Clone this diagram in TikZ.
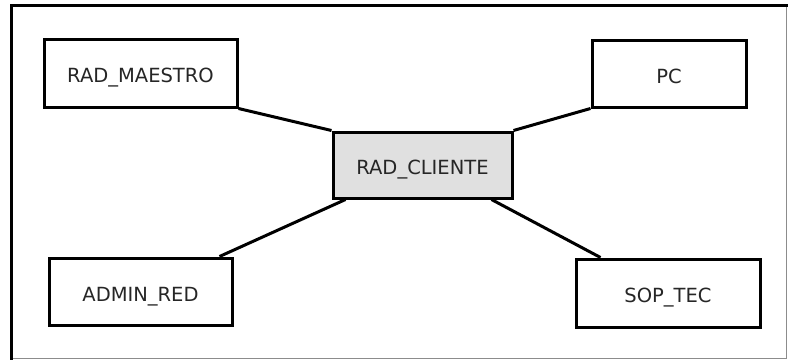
\documentclass[tikz,border=0pt]{standalone}
\usepackage{fontspec}
\setmainfont{DejaVu Sans}
\usetikzlibrary{calc}
\begin{document}
\begin{tikzpicture}[x=1pt,y=-1pt,
  entity/.style={draw=black,line width=3pt,fill=white,inner sep=0pt,
    text height=14pt,text depth=0pt,
    font=\fontsize{19.5}{22}\selectfont,text=black!85},
  link/.style={draw=black,line width=3pt}]
\useasboundingbox (0,0) rectangle (789,360);
\fill[white] (0,0) rectangle (789,360);
% frame
\draw[line width=1pt,black!45] (786,5) -- (786,358) -- (11,358);
\draw[line width=3pt,line cap=rect] (11,358) -- (11,5) -- (786,5);
% boxes
\node[entity,minimum width=193pt,minimum height=68pt] (maestro) at (140.5,73) {\raisebox{-2.5pt}{RAD\_MAESTRO}};
\node[entity,minimum width=154pt,minimum height=67pt] (pc) at (669,73.5) {\raisebox{-2.5pt}{PC}};
\node[entity,minimum width=183pt,minimum height=67pt] (admin) at (140.5,291.5) {\raisebox{-2.5pt}{ADMIN\_RED}};
\node[entity,minimum width=184pt,minimum height=68pt] (sop) at (668,293) {\raisebox{-2.5pt}{SOP\_TEC}};
\node[entity,fill=black!12,minimum width=179pt,minimum height=66pt] (cliente) at (422.5,165) {\raisebox{-2.5pt}{RAD\_CLIENTE}};
% connectors
\draw[link] (maestro.south east) -- (cliente.north west);
\draw[link] (pc.south west) -- (cliente.north east);
\draw[link] ($(admin.north east)+(-14,0)$) -- ($(cliente.south west)+(14,0)$);
\draw[link] ($(sop.north west)+(26,0)$) -- ($(cliente.south east)+(-22,0)$);
\end{tikzpicture}
\end{document}
